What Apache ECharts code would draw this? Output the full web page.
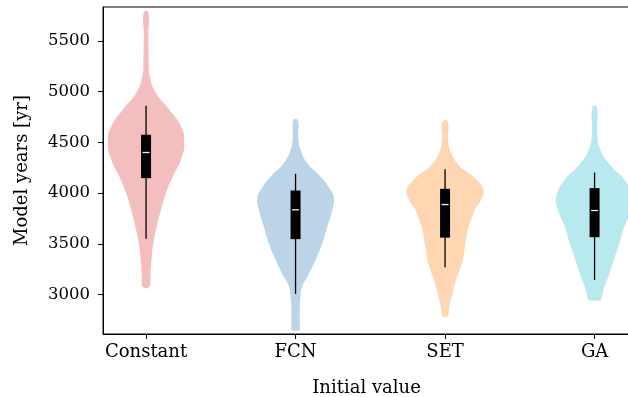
<!DOCTYPE html>
<html lang="en">
<head>
    <meta charset="UTF-8">
    <title>Violin plot</title>
    <script src="https://cdn.jsdelivr.net/npm/echarts@6/dist/echarts.min.js"></script>
    <style>
        body { margin: 0; background: #fff; }
        #chart { width: 628px; height: 397px; }
    </style>
</head>
<body>
<div id="chart"></div>
<script>
    // categories on the x axis
    var categories = ['Constant', 'FCN', 'SET', 'GA'];

    // violin outlines: [model years, relative density (1 = widest)]
    var constantProfile = [
        [3079, 0.09], [3178, 0.11], [3342, 0.14], [3507, 0.19], [3671, 0.28],
        [3836, 0.39], [4000, 0.52], [4164, 0.70], [4329, 0.91], [4494, 1.00],
        [4657, 0.91], [4822, 0.61], [4987, 0.26], [5151, 0.10], [5316, 0.07],
        [5582, 0.06], [5782, 0.06]
    ];
    var fcnProfile = [
        [2652, 0.10], [2684, 0.11], [2849, 0.11], [2980, 0.13], [3079, 0.17],
        [3178, 0.31], [3342, 0.52], [3507, 0.70], [3671, 0.83], [3836, 0.96],
        [3951, 1.00], [4033, 0.91], [4164, 0.65], [4296, 0.31], [4428, 0.13],
        [4559, 0.07], [4717, 0.06]
    ];
    var setProfile = [
        [2790, 0.07], [2882, 0.11], [2980, 0.17], [3145, 0.29], [3310, 0.44],
        [3474, 0.52], [3638, 0.59], [3737, 0.68], [3836, 0.78], [3934, 0.94],
        [4033, 1.00], [4132, 0.82], [4200, 0.62], [4263, 0.39], [4395, 0.16],
        [4526, 0.08], [4705, 0.07]
    ];
    var gaProfile = [
        [2948, 0.16], [2980, 0.19], [3079, 0.26], [3211, 0.39], [3342, 0.50],
        [3507, 0.65], [3671, 0.78], [3836, 0.96], [3967, 1.00], [4132, 0.78],
        [4263, 0.44], [4428, 0.15], [4592, 0.07], [4850, 0.06]
    ];
    var profiles = [constantProfile, fcnProfile, setProfile, gaProfile];

    // box stats: [whisker low, q1, median, q3, whisker high]
    var boxStats = [
        [3552, 4148, 4401, 4576, 4862],
        [3007, 3547, 3836, 4026, 4191],
        [3270, 3562, 3888, 4043, 4237],
        [3145, 3566, 3829, 4050, 4204]
    ];

    // tick positions
    var yTicks = [3000, 3500, 4000, 4500, 5000, 5500];
    var xTicks = [0, 1, 2, 3];

    var colors = ['#f3bebe', '#bbd4e7', '#fed6b2', '#b7e9ee'];
    var violinHalf = 0.256; // widest half-width, in x units

    var chart = echarts.init(document.getElementById('chart'));

    function renderViolin(params, api) {
        var idx = api.value(0);
        var prof = profiles[idx];
        var pts = [];
        // right side bottom -> top, then left side top -> bottom
        for (var i = 0; i < prof.length; i++) {
            pts.push(api.coord([idx + prof[i][1] * violinHalf, prof[i][0]]));
        }
        for (var j = prof.length - 1; j >= 0; j--) {
            pts.push(api.coord([idx - prof[j][1] * violinHalf, prof[j][0]]));
        }
        var s = boxStats[idx];
        var lo = api.coord([idx, s[0]]);
        var q1 = api.coord([idx, s[1]]);
        var med = api.coord([idx, s[2]]);
        var q3 = api.coord([idx, s[3]]);
        var hi = api.coord([idx, s[4]]);
        var cx = lo[0];
        return {
            type: 'group',
            children: [
                {
                    type: 'polygon',
                    shape: { points: pts, smooth: 0.5 },
                    style: { fill: colors[idx], stroke: null }
                },
                {
                    type: 'line',
                    shape: { x1: cx, y1: lo[1], x2: cx, y2: hi[1] },
                    style: { stroke: '#000', lineWidth: 1.3 }
                },
                {
                    type: 'rect',
                    shape: { x: cx - 5, y: q3[1], width: 10, height: q1[1] - q3[1] },
                    style: { fill: '#000' }
                },
                {
                    type: 'line',
                    shape: { x1: cx - 3.5, y1: med[1], x2: cx + 3.5, y2: med[1] },
                    style: { stroke: '#f0f0f0', lineWidth: 1.3 }
                }
            ]
        };
    }

    var option = {
        animation: false,
        textStyle: { fontFamily: 'DejaVu Serif' },
        grid: {
            left: 103,
            top: 7,
            width: 527,
            height: 327,
            outerBoundsMode: 'none',
            containLabel: false,
            show: true,
            borderColor: '#000',
            borderWidth: 1,
            backgroundColor: 'transparent'
        },
        xAxis: {
            type: 'value',
            min: -0.288,
            max: 3.237,
            name: 'Initial value',
            nameLocation: 'middle',
            nameGap: 45,
            nameTextStyle: { fontSize: 18, color: '#000', fontFamily: 'DejaVu Serif' },
            axisLine: { show: true, onZero: false, lineStyle: { color: '#000', width: 1 } },
            splitLine: { show: false },
            axisTick: {
                show: true,
                length: 5,
                customValues: xTicks,
                lineStyle: { color: '#000', width: 1 }
            },
            axisLabel: {
                customValues: xTicks,
                margin: 9,
                fontSize: 18,
                color: '#000',
                fontFamily: 'DejaVu Serif',
                formatter: function (v) { return categories[Math.round(v)]; }
            }
        },
        yAxis: {
            type: 'value',
            min: 2612,
            max: 5835,
            name: 'Model years [yr]',
            nameLocation: 'middle',
            nameGap: 72,
            nameTextStyle: { fontSize: 18, color: '#000', fontFamily: 'DejaVu Serif' },
            axisLine: { show: true, onZero: false, lineStyle: { color: '#000', width: 1 } },
            splitLine: { show: false },
            axisTick: {
                show: true,
                length: 5,
                customValues: yTicks,
                lineStyle: { color: '#000', width: 1 }
            },
            axisLabel: {
                customValues: yTicks,
                margin: 13,
                fontSize: 16.5,
                color: '#000',
                fontFamily: 'DejaVu Serif',
                formatter: function (v) { return String(v); }
            }
        },
        series: [{
            type: 'custom',
            renderItem: renderViolin,
            data: [[0], [1], [2], [3]],
            encode: { x: 0 }
        }]
    };

    chart.setOption(option);
</script>
</body>
</html>
